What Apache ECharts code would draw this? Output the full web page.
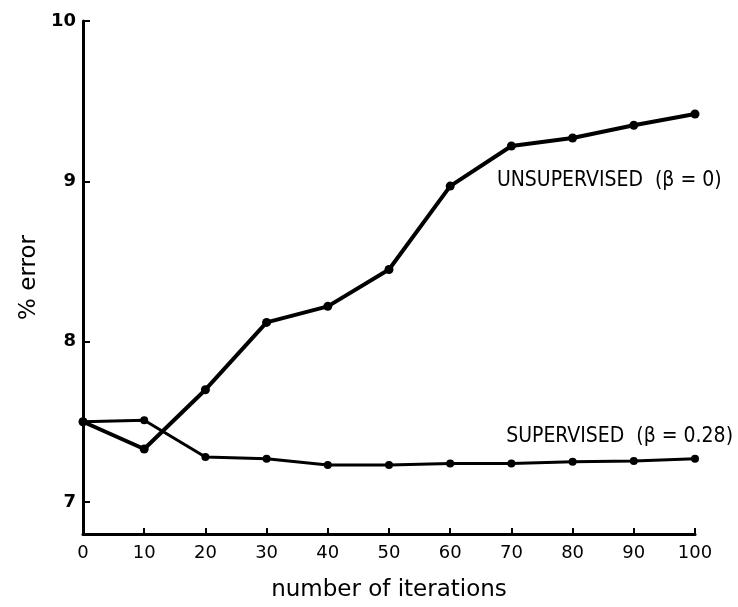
<!DOCTYPE html>
<html>
<head>
<meta charset="utf-8">
<script src="https://cdn.jsdelivr.net/npm/echarts@6/dist/echarts.min.js"></script>
<style>
  html, body { margin: 0; padding: 0; background: #fff; }
  #chart { width: 738px; height: 607px; }
</style>
</head>
<body>
<div id="chart"></div>
<script>
// values
const iterations = [0, 10, 20, 30, 40, 50, 60, 70, 80, 90, 100];
const unsupervised = [7.5, 7.33, 7.7, 8.12, 8.22, 8.45, 8.97, 9.22, 9.27, 9.35, 9.42];
const supervised = [7.5, 7.51, 7.28, 7.27, 7.23, 7.23, 7.24, 7.24, 7.25, 7.255, 7.27];
const yTicks = [7, 8, 9, 10];
const unsupLabel = 'UNSUPERVISED  (\u03b2 = 0)';
const supLabel = 'SUPERVISED  (\u03b2 = 0.28)';

const font = 'DejaVu Sans';
const condensed = 'DejaVu Sans Condensed';
const ink = '#000';

function pairs(ys, labelIdx, label) {
  return iterations.map((x, i) => {
    const d = { value: [x, ys[i]] };
    if (i === labelIdx) d.label = label;
    return d;
  });
}

const chart = echarts.init(document.getElementById('chart'));
chart.setOption({
  animation: false,
  backgroundColor: '#fff',
  grid: { left: 83, right: 43, top: 21, bottom: 70 },
  xAxis: {
    type: 'value',
    min: 0, max: 100, interval: 10,
    name: 'number of iterations',
    nameLocation: 'middle',
    nameGap: 45,
    nameTextStyle: { fontFamily: font, fontSize: 23, color: ink },
    axisLine: { lineStyle: { color: ink, width: 3 } },
    axisTick: { inside: true, length: 6, lineStyle: { color: ink, width: 2 } },
    axisLabel: { fontFamily: font, fontSize: 18, color: ink, margin: 10 },
    splitLine: { show: false }
  },
  yAxis: {
    type: 'value',
    min: 6.8, max: 10,
    name: '% error',
    nameLocation: 'middle',
    nameGap: 42,
    nameTextStyle: { fontFamily: font, fontSize: 23, color: ink },
    axisLine: { lineStyle: { color: ink, width: 3 } },
    axisTick: { inside: true, length: 7, customValues: yTicks, lineStyle: { color: ink, width: 2 } },
    axisLabel: { fontFamily: font, fontSize: 18, color: ink, margin: 7, fontWeight: 'bold', customValues: yTicks },
    splitLine: { show: false }
  },
  series: [
    {
      name: 'unsupervised',
      type: 'line',
      symbol: 'circle',
      symbolSize: 9,
      itemStyle: { color: ink },
      lineStyle: { color: ink, width: 4 },
      data: pairs(unsupervised, 7, {
        show: true, formatter: unsupLabel, position: 'right', align: 'left',
        offset: [-24, 35], fontFamily: condensed, fontSize: 21, color: ink
      })
    },
    {
      name: 'supervised',
      type: 'line',
      symbol: 'circle',
      symbolSize: 8,
      itemStyle: { color: ink },
      lineStyle: { color: ink, width: 3 },
      data: pairs(supervised, 10, {
        show: true, formatter: supLabel, position: 'left', align: 'right',
        offset: [47, -22], fontFamily: condensed, fontSize: 21, color: ink
      })
    }
  ]
});
</script>
</body>
</html>
